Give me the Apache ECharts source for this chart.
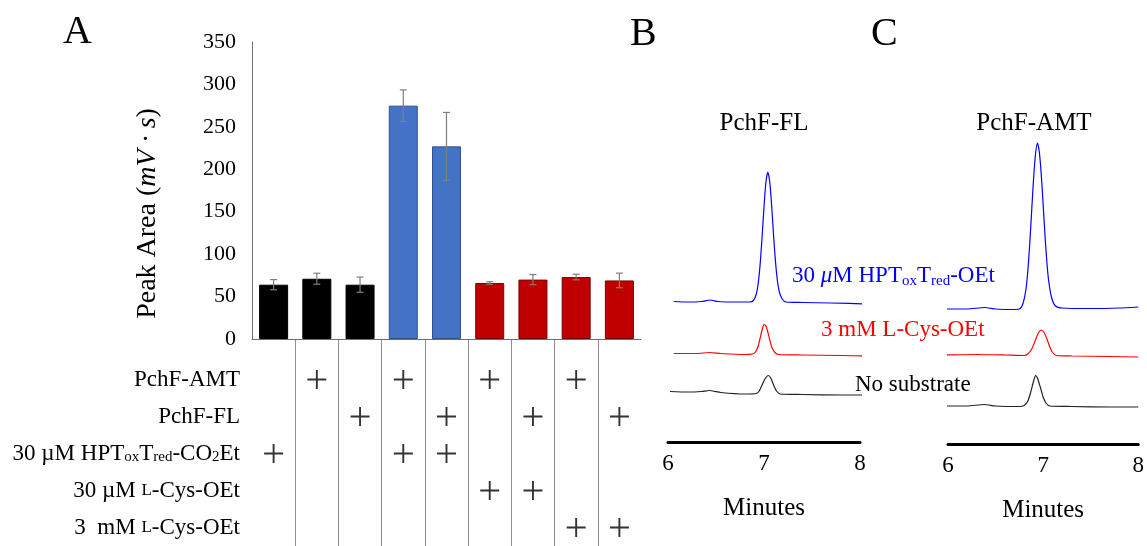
<!DOCTYPE html>
<html>
<head>
<meta charset="utf-8">
<script src="https://cdn.jsdelivr.net/npm/echarts@6/dist/echarts.min.js"></script>
<style>
  html, body { margin: 0; padding: 0; background: #fff; }
  #chart { width: 1147px; height: 546px; }
</style>
</head>
<body>
<div id="chart"></div>
<script>
// Panel A: peak areas for the nine reactions
const lanes = ['1', '2', '3', '4', '5', '6', '7', '8', '9']
const peakArea = [64, 71, 64, 275, 227, 66, 70, 73, 69]
const peakErr = [6, 6.5, 9, 18.5, 40, 1.5, 6, 3.3, 8.6]
const laneGroup = [0, 0, 0, 1, 1, 2, 2, 2, 2]   // 0 = control, 1 = HPT, 2 = Cys
const yTicks = [0, 50, 100, 150, 200, 250, 300, 350]

// reaction table under panel A
const rowLabels = [
  'PchF-AMT',
  'PchF-FL',
  '30 µM HPT{s|ox}T{s|red}-CO{s|2}Et',
  '30 µM {sc|L}-Cys-OEt',
  '3  mM {sc|L}-Cys-OEt'
]
// [lane, row] where a "+" appears
const plusMarks = [
  [1, 0], [3, 0], [5, 0], [7, 0],
  [2, 1], [4, 1], [6, 1], [8, 1],
  [0, 2], [3, 2], [4, 2],
  [5, 3], [6, 3],
  [7, 4], [8, 4]
]

// Panels B/C: chromatograms [minutes, signal a.u.]
const minuteTicks = [6, 7, 8]
const flBlue = [[6.06,140.5],[6.2,140],[6.35,140.5],[6.44,142],[6.52,140.5],[6.7,140],[6.85,140],[6.89,141.5],[6.92,148],[6.94,159],[6.96,178],[6.98,205],[7.00,235],[7.02,260],[7.04,270],[7.06,260],[7.08,236],[7.10,206],[7.12,180],[7.14,161],[7.16,150],[7.19,143],[7.23,140],[7.4,139.5],[7.7,139],[8.09,138]]
const flRed = [[6.06,88.5],[6.3,88.5],[6.43,89.5],[6.55,88.5],[6.8,87.5],[6.88,88],[6.91,90],[6.94,96],[6.96,104],[6.98,112],[7.00,117.5],[7.02,116],[7.04,110],[7.06,102],[7.08,95],[7.11,90],[7.15,87.5],[7.4,87],[7.8,86.5],[8.09,86]]
const flBlack = [[6.02,50.5],[6.2,50],[6.35,50.5],[6.43,51.5],[6.55,49.5],[6.8,48],[6.92,48.5],[6.95,51],[6.98,57],[7.01,63],[7.045,66.5],[7.07,64],[7.10,57],[7.13,51],[7.17,48],[7.4,47.5],[7.8,47],[8.05,47]]
const amtBlue = [[5.97,135],[6.2,135],[6.385,136.5],[6.5,135],[6.7,134.5],[6.76,135.5],[6.79,141],[6.82,155],[6.84,174],[6.86,201],[6.88,234],[6.90,266],[6.92,290],[6.94,301],[6.96,292],[6.98,270],[7.00,240],[7.02,208],[7.04,181],[7.06,162],[7.09,146],[7.13,138],[7.2,136],[7.5,135.5],[7.8,136],[8.0,137]]
const amtRed = [[5.97,89],[6.3,89.5],[6.6,89],[6.8,88.5],[6.84,90],[6.88,95],[6.92,104],[6.95,111],[6.98,114],[7.01,111.5],[7.04,105],[7.07,97],[7.10,91.5],[7.14,88.5],[7.3,88],[7.7,87.5],[8.0,87]]
const amtBlack = [[5.98,38],[6.2,38],[6.38,39.5],[6.5,38],[6.75,37.5],[6.80,38.5],[6.84,43],[6.87,52],[6.90,63],[6.92,68.5],[6.94,66],[6.97,57],[7.00,47],[7.03,41],[7.07,38],[7.3,37.5],[7.7,37],[8.0,37]]

const serif = '"Liberation Serif", "DejaVu Serif", serif'
const groupFill = ['#000000', '#4472c4', '#c00000']
const groupEdge = ['#000000', '#2f528f', '#7a0000']

const chart = echarts.init(document.getElementById('chart'))

// 色谱曲线
const trace = (data, color, idx) => ({
  type: 'line',
  xAxisIndex: idx,
  yAxisIndex: idx,
  data: data,
  showSymbol: false,
  smooth: 0.2,
  clip: false,
  lineStyle: { color: color, width: 1.2 },
  silent: true
})

const txt = (size, color) => ({ fontFamily: serif, fontSize: size, fontWeight: 'normal', color: color || '#000' })

// 时间轴 (B, C)
const minuteAxis = (idx) => ({
  type: 'value', gridIndex: idx, min: minuteTicks[0], max: minuteTicks[2], interval: 1,
  axisLine: { lineStyle: { color: '#000', width: 3 } },
  axisTick: { show: false }, splitLine: { show: false },
  axisLabel: { ...txt(23), margin: 10 },
  name: 'Minutes', nameLocation: 'middle', nameGap: 54,
  nameTextStyle: txt(25)
})

const option = {
  animation: false,
  textStyle: { fontFamily: serif, color: '#000' },
  title: [
    { text: 'A', left: 63, top: 12, padding: 0, textStyle: txt(40) },
    { text: 'B', left: 630, top: 14, padding: 0, textStyle: txt(40) },
    { text: 'C', left: 871, top: 14, padding: 0, textStyle: txt(40) },
    { text: 'PchF-FL', left: 764, top: 111, textAlign: 'center', padding: 0, textStyle: txt(25) },
    { text: 'PchF-AMT', left: 1034, top: 111, textAlign: 'center', padding: 0, textStyle: txt(25) },
    {
      text: '{n|30 }{i|μ}{n|M HPT}{s|ox}{n|T}{s|red}{n|-OEt}',
      left: 792, top: 263, padding: 0,
      textStyle: {
        fontWeight: 'normal',
        rich: {
          n: { ...txt(23, '#0000ff'), lineHeight: 26 },
          i: { ...txt(23, '#0000ff'), fontStyle: 'italic', lineHeight: 26 },
          s: { ...txt(15, '#0000ff'), lineHeight: 12, verticalAlign: 'bottom' }
        }
      }
    },
    { text: '3 mM L-Cys-OEt', left: 821, top: 318, padding: 0, textStyle: txt(23, '#ff0000') },
    { text: 'No substrate', left: 855, top: 373, padding: 0, textStyle: txt(23) }
  ],
  grid: [
    { left: 252, top: 42, width: 389, height: 297 },
    { left: 252, top: 339, width: 389, height: 207 },
    { left: 252, top: 361, width: 389, height: 187.5 },
    { left: 668, top: 102, width: 192, height: 340 },
    { left: 948, top: 104, width: 192, height: 340 }
  ],
  xAxis: [
    {
      type: 'category', gridIndex: 0, data: lanes,
      axisLine: { lineStyle: { color: '#6e6e6e', width: 1 } },
      axisTick: { show: false }, axisLabel: { show: false }
    },
    {
      type: 'category', gridIndex: 1, data: lanes,
      axisLine: { show: false }, axisTick: { show: false }, axisLabel: { show: false },
      splitLine: { show: true, interval: 0, showMinLine: false, showMaxLine: false, lineStyle: { color: '#8c8c8c', width: 1 } }
    },
    {
      type: 'category', gridIndex: 2, data: lanes, show: false
    },
    minuteAxis(3),
    minuteAxis(4)
  ],
  yAxis: [
    {
      type: 'value', gridIndex: 0, min: yTicks[0], max: yTicks[yTicks.length - 1], interval: 50,
      axisLine: { show: true, lineStyle: { color: '#6e6e6e', width: 1 } },
      axisTick: { show: false }, splitLine: { show: false },
      axisLabel: { ...txt(22), margin: 16 },
      name: '{n|Peak Area (}{i|mV · s}{n|)}',
      nameLocation: 'middle', nameGap: 90, nameRotate: 90,
      nameTextStyle: {
        padding: [0, 46, 0, 0],
        rich: {
          n: txt(28),
          i: { ...txt(28), fontStyle: 'italic' }
        }
      }
    },
    { type: 'value', gridIndex: 1, min: 0, max: 1, show: false },
    {
      type: 'category', gridIndex: 2, data: rowLabels, inverse: true,
      axisLine: { show: false }, axisTick: { show: false },
      axisLabel: {
        ...txt(23),
        margin: 12,
        rich: {
          s: { ...txt(15), lineHeight: 10, verticalAlign: 'bottom' },
          sc: txt(17)
        }
      }
    },
    { type: 'value', gridIndex: 3, min: 0, max: 340, show: false },
    { type: 'value', gridIndex: 4, min: 0, max: 340, show: false }
  ],
  series: [
    {
      type: 'bar',
      xAxisIndex: 0, yAxisIndex: 0,
      barWidth: 29,
      data: peakArea.map((v, i) => ({
        value: v,
        itemStyle: { color: groupFill[laneGroup[i]], borderColor: groupEdge[laneGroup[i]], borderWidth: 1 }
      })),
      silent: true
    },
    {
      type: 'custom',
      xAxisIndex: 0, yAxisIndex: 0,
      data: peakArea.map((v, i) => [i, v, peakErr[i]]),
      z: 5,
      renderItem: (params, api) => {
        const i = api.value(0)
        const v = api.value(1)
        const e = api.value(2)
        const hi = api.coord([i, v + e])
        const lo = api.coord([i, v - e])
        const cap = 3.5
        const style = { stroke: '#7f7f7f', lineWidth: 1.2 }
        return {
          type: 'group',
          children: [
            { type: 'line', shape: { x1: hi[0], y1: hi[1], x2: lo[0], y2: lo[1] }, style },
            { type: 'line', shape: { x1: hi[0] - cap, y1: hi[1], x2: hi[0] + cap, y2: hi[1] }, style },
            { type: 'line', shape: { x1: lo[0] - cap, y1: lo[1], x2: lo[0] + cap, y2: lo[1] }, style }
          ]
        }
      },
      silent: true
    },
    {
      type: 'scatter',
      xAxisIndex: 2, yAxisIndex: 2,
      data: plusMarks,
      symbol: 'path://M9,0H11V20H9ZM0,9H20V11H0Z',
      symbolSize: 19,
      itemStyle: { color: '#000' },
      silent: true
    },
    trace(flBlue, '#0000ff', 3),
    trace(flRed, '#ff0000', 3),
    trace(flBlack, '#222222', 3),
    trace(amtBlue, '#0000ff', 4),
    trace(amtRed, '#ff0000', 4),
    trace(amtBlack, '#222222', 4)
  ]
}

chart.setOption(option)
window.addEventListener('resize', () => chart.resize())
</script>
</body>
</html>
